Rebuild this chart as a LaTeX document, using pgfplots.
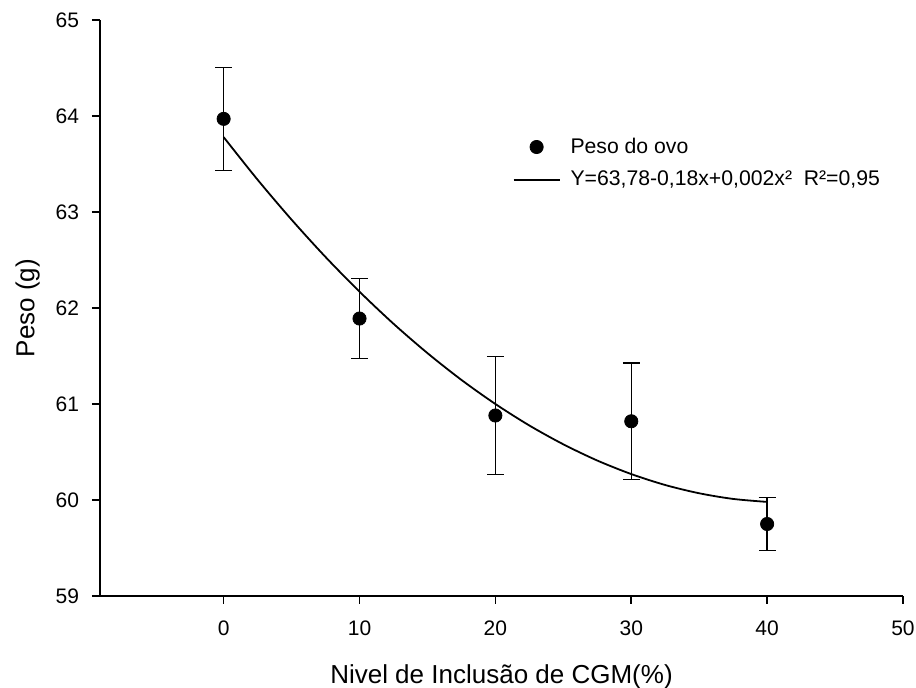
\documentclass[border=0pt]{standalone}
\usepackage{pgfplots}
\pgfplotsset{compat=1.18}
\usepackage{fontspec}
\setmainfont{Liberation Sans}
\begin{document}
\begin{tikzpicture}
\begin{axis}[
  width=401.5pt, height=288pt, scale only axis,
  xmin=-9.1, xmax=50, ymin=59, ymax=65,
  xtick={0,10,20,30,40,50}, ytick={59,60,61,62,63,64,65},
  axis x line=bottom, axis y line=left,
  axis line style={-, line width=0.8pt},
  tick style={black, line width=0.8pt},
  tick align=outside, major tick length=4pt,
  /pgf/number format/assume math mode=true,
  ticklabel style={font=\fontsize{10.5}{12}\selectfont},
  xticklabel style={yshift=-5pt},
  yticklabel style={xshift=-3pt},
  xlabel={Nivel de Inclusão de CGM(\%)},
  ylabel={Peso (g)},
  label style={font=\fontsize{13}{15}\selectfont},
  xlabel style={yshift=-7.5pt},
  ylabel style={yshift=1pt},
  legend style={at={(0.506,0.81)}, anchor=north west, draw=none, fill=none,
    font=\fontsize{10.6}{13}\selectfont, row sep=3.5pt,
    /tikz/every odd column/.append style={column sep=3pt}},
  legend cell align=left,
  clip=false,
]
\addplot[only marks, mark=*, mark size=3.3pt, black,
  legend image code/.code={\draw[black] plot[mark=*, mark size=3.3pt] coordinates {(11.5pt,0pt)};},
  error bars/.cd, y dir=both, y explicit,
  error bar style={line width=0.7pt},
  error mark options={rotate=90, mark size=4.2pt, line width=0.7pt}]
  coordinates {
  (0,63.97) +- (0,0.535)
  (10,61.89) +- (0,0.415)
  (20,60.88) +- (0,0.615)
  (30,60.82) +- (0,0.605)
  (40,59.75) +- (0,0.275)
  };
\addlegendentry{Peso do ovo}
\addplot[black, line width=0.9pt, smooth, no marks,
  legend image code/.code={\draw[black, line width=0.9pt] (0pt,0pt) -- (23pt,0pt);}]
  coordinates {
  (0,63.78) (2.5,63.336) (5,62.92) (7.5,62.531) (10,62.17) (12.5,61.836)
  (15,61.53) (17.5,61.251) (20,61.0) (22.5,60.776) (25,60.58) (27.5,60.411)
  (30,60.27) (32.5,60.156) (35,60.07) (37.5,60.011) (40,59.98)
  };
\addlegendentry{Y=63,78-0,18x+0,002x²\ \ R²=0,95}
\end{axis}
\pgfresetboundingbox
\useasboundingbox ([xshift=-50pt,yshift=-46pt]current axis.south west) rectangle ([xshift=6.5pt,yshift=10pt]current axis.north east);
\end{tikzpicture}
\end{document}
